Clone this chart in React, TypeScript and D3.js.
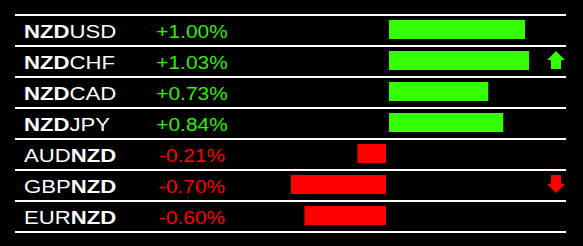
import React from "react";
import * as d3 from "d3";

const pairs = ["NZDUSD", "NZDCHF", "NZDCAD", "NZDJPY", "AUDNZD", "GBPNZD", "EURNZD"];
const changes = [1.0, 1.03, 0.73, 0.84, -0.21, -0.7, -0.6];
const baseCurrency = "NZD";

const W = 583;
const H = 246;
const GREEN = "#33ff00";
const GREEN_TEXT = "#2ef000";
const RED = "#ff0000";

export default function App() {
  const rowY = d3
    .scaleBand<number>()
    .domain(pairs.map((_, i) => i))
    .range([15, 15 + 31 * pairs.length])
    .paddingInner(0)
    .paddingOuter(0);
  const wScale = d3.scaleLinear().domain([0, 1]).range([0, 136]);
  const zeroL = 386;
  const zeroR = 389;
  const maxI = changes.indexOf(d3.max(changes) as number);
  const minI = changes.indexOf(d3.min(changes) as number);
  const font = "'Liberation Sans', Arial, sans-serif";

  const lines = d3.range(pairs.length + 1).map((i) => 15 + 31 * i);

  return (
    <svg
      width={W}
      height={H}
      style={{ position: "absolute", left: 0, top: 0, display: "block", background: "#000" }}
    >
      <rect x={0} y={0} width={W} height={H} fill="#000" />
      {lines.map((y, i) => (
        <line key={i} x1={15} x2={566} y1={y} y2={y} stroke="#fff" strokeWidth={2} />
      ))}
      {pairs.map((p, i) => {
        const top = rowY(i) as number;
        const v = changes[i];
        const w = wScale(Math.abs(v));
        const pos = v >= 0;
        const parts = p.startsWith(baseCurrency)
          ? [
              { t: baseCurrency, b: true },
              { t: p.slice(3), b: false },
            ]
          : [
              { t: p.slice(0, 3), b: false },
              { t: baseCurrency, b: true },
            ];
        const label = (pos ? "+" : "") + v.toFixed(2) + "%";
        const base = top + 22.5;
        return (
          <g key={p}>
            <text
              transform={`translate(24,${base}) scale(1.23,1)`}
              fontFamily={font}
              fontSize={18}
              fill="#fff"
            >
              {parts.map((pt, k) => (
                <tspan key={k} fontWeight={pt.b ? "bold" : "normal"}>
                  {pt.t}
                </tspan>
              ))}
            </text>
            <text
              transform={`translate(192,${base}) scale(1.16,1)`}
              textAnchor="middle"
              fontFamily={font}
              fontSize={18}
              fill={pos ? GREEN_TEXT : RED}
            >
              {label}
            </text>
            <rect
              x={pos ? zeroR : zeroL - w}
              y={top + 5}
              width={w}
              height={19}
              fill={pos ? GREEN : RED}
            />
            {i === maxI && (
              <path
                transform={`translate(556,${top + 14})`}
                d="M0,-9 L9,0 L5,0 L5,9 L-5,9 L-5,0 L-9,0 Z"
                fill={GREEN}
              />
            )}
            {i === minI && (
              <path
                transform={`translate(556,${top + 14})`}
                d="M0,9 L9,0 L5,0 L5,-9 L-5,-9 L-5,0 L-9,0 Z"
                fill={RED}
              />
            )}
          </g>
        );
      })}
    </svg>
  );
}
